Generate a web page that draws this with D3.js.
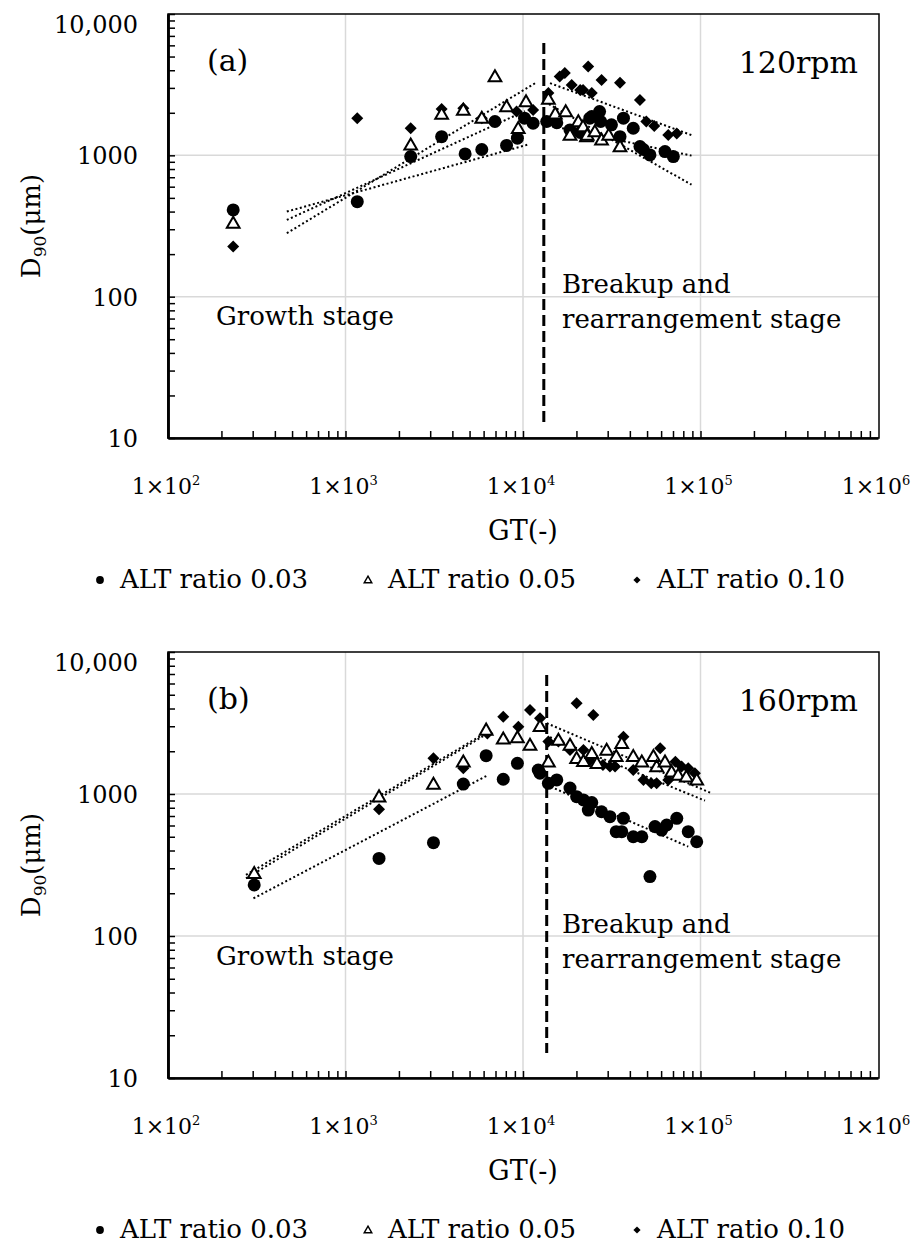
<!DOCTYPE html>
<html>
<head>
<meta charset="utf-8">
<script src="https://cdn.jsdelivr.net/npm/d3@7"></script>
<style>
  body { margin: 0; background: #fff; }
  text { font-family: "DejaVu Serif", serif; fill: #000; }
</style>
</head>
<body>
<div id="chart"></div>
<script>
// ---- data ----
var seriesNames = ["ALT ratio 0.03", "ALT ratio 0.05", "ALT ratio 0.10"];
var xTickExp = [2, 3, 4, 5, 6];
var yTickVals = [10, 100, 1000, 10000];

// (a) 120 rpm
var gtA1 = [233, 1165, 2330, 3480, 4720, 5860, 6950, 8080, 9300, 10200, 11400, 13600, 15500, 18400, 21000, 23800, 24400, 27000, 27400, 31500, 35200, 36800, 41800, 45600, 47700, 51900, 63100, 70300];
var d90A1 = [411, 470, 980, 1356, 1024, 1100, 1735, 1176, 1322, 1833, 1687, 1735, 1700, 1513, 1450, 1833, 1880, 2040, 1735, 1644, 1356, 1833, 1555, 1153, 1100, 1006, 1063, 980];
var gtA2 = [233, 2330, 3480, 4610, 5860, 6950, 8080, 9400, 10400, 13900, 15200, 17400, 18400, 20500, 21800, 22800, 23000, 25400, 27700, 30400, 35200];
var d90A2 = [331, 1186, 1955, 2094, 1833, 3610, 2213, 1555, 2400, 2500, 1970, 2040, 1393, 1735, 1600, 1356, 1393, 1472, 1285, 1393, 1153];
var gtA3 = [233, 1165, 2330, 3480, 4610, 5860, 9200, 11400, 13900, 16100, 17200, 18800, 21000, 21800, 23300, 24400, 27700, 35200, 45600, 49500, 54900, 65800, 73500];
var d90A3 = [226, 1833, 1555, 2130, 2150, 1833, 2040, 2094, 2760, 3610, 3820, 3150, 2900, 2900, 4250, 2760, 3410, 3260, 2466, 1735, 1610, 1393, 1430];
// trend lines (start/end)
var fitAgt = [[467, 11700], [467, 10250], [467, 10900], [14200, 89000], [14000, 89000], [14000, 89000]];
var fitAd90 = [[281, 3240], [349, 2055], [400, 1200], [3240, 1390], [1630, 995], [2300, 620]];
var splitA = [13100, 6240, 13];

// (b) 160 rpm
var gtB1 = [306, 1545, 3130, 4610, 6200, 7740, 9300, 12190, 12470, 13900, 15500, 18400, 20050, 21900, 23330, 24400, 27700, 30900, 33500, 36000, 36800, 41800, 46700, 51900, 55400, 60400, 64500, 73500, 85300, 95200];
var d90B1 = [229, 352, 454, 1175, 1862, 1270, 1645, 1476, 1400, 1189, 1256, 1100, 958, 908, 771, 870, 750, 692, 543, 543, 674, 500, 500, 262, 590, 557, 605, 674, 543, 461];
var gtB2 = [306, 1545, 3130, 4610, 6200, 7740, 9300, 10950, 12470, 13900, 15830, 18400, 20050, 21900, 24400, 26100, 29600, 33500, 36000, 41800, 46700, 54300, 56600, 63100, 68700, 74800, 83200, 95200];
var d90B2 = [276, 957, 1175, 1687, 2825, 2450, 2500, 2213, 2990, 1687, 2400, 2213, 1783, 1700, 1937, 1645, 2040, 1840, 2275, 1840, 1687, 1840, 1560, 1687, 1435, 1360, 1320, 1256];
var gtB3 = [1545, 3130, 4610, 6300, 7740, 9420, 10950, 12470, 13900, 15830, 18400, 20050, 21900, 23800, 24900, 28200, 30900, 33000, 36800, 41800, 47700, 52800, 56600, 59300, 65800, 72200, 78300, 85300, 93000];
var d90B3 = [780, 1783, 1517, 2670, 3500, 2980, 3910, 3410, 2340, 2340, 2040, 4350, 2040, 1720, 3600, 1600, 1560, 1560, 2535, 1476, 1256, 1189, 1189, 2100, 1256, 1687, 1560, 1520, 1400];
var fitBgt = [[275, 6100], [275, 6100], [303, 6380], [13600, 115600], [14200, 106000], [13600, 85300]];
var fitBd90 = [[269, 2673], [255, 2600], [184, 1362], [3150, 1012], [2512, 898], [1156, 426]];
var splitB = [13600, 6890, 15];

// ---- layout ----
var width = 913, height = 1255;
var svg = d3.select("#chart").append("svg")
    .attr("width", width)
    .attr("height", height);

var panels = [
  {top: 14, bottom: 438, label: "(a)", rpm: "120rpm", legendDy: 150,
   gt: [gtA1, gtA2, gtA3], d90: [d90A1, d90A2, d90A3], fitGt: fitAgt, fitD90: fitAd90, split: splitA},
  {top: 652, bottom: 1078, label: "(b)", rpm: "160rpm", legendDy: 160,
   gt: [gtB1, gtB2, gtB3], d90: [d90B1, d90B2, d90B3], fitGt: fitBgt, fitD90: fitBd90, split: splitB}
];

var left = 168, right = 879;

function marker(g, kind, x, y, s) {
  if (kind === 0) {
    g.append("circle").attr("cx", x).attr("cy", y).attr("r", 6.5 * s).attr("fill", "#000");
  } else if (kind === 1) {
    g.append("path")
      .attr("d", d3.symbol().type(d3.symbolTriangle).size(70 * s * s)())
      .attr("transform", "translate(" + x + "," + (y + 1 * s) + ")")
      .attr("fill", "#fff").attr("stroke", "#000").attr("stroke-width", 2 * Math.max(s, 0.7));
  } else {
    g.append("path")
      .attr("d", d3.symbol().type(d3.symbolSquare).size(72 * s * s)())
      .attr("transform", "translate(" + x + "," + y + ") rotate(45)")
      .attr("fill", "#000");
  }
}

panels.forEach(function(p) {
  var x = d3.scaleLog().domain([100, 1e6]).range([left, 878]);
  var y = d3.scaleLog().domain([10, 10000]).range([p.bottom, p.top]);
  var g = svg.append("g");

  // grid
  g.selectAll(".gx").data([1e3, 1e4, 1e5]).enter().append("line")
    .attr("x1", function(d) { return x(d); }).attr("x2", function(d) { return x(d); })
    .attr("y1", p.top).attr("y2", p.bottom)
    .attr("stroke", "#d9d9d9").attr("stroke-width", 1.5);
  g.selectAll(".gy").data([100, 1000]).enter().append("line")
    .attr("y1", function(d) { return y(d); }).attr("y2", function(d) { return y(d); })
    .attr("x1", left).attr("x2", right)
    .attr("stroke", "#d9d9d9").attr("stroke-width", 1.5);

  // frame
  g.append("rect").attr("x", left).attr("y", p.top)
    .attr("width", right - left).attr("height", p.bottom - p.top)
    .attr("fill", "none").attr("stroke", "#000").attr("stroke-width", 1.5);

  // minor tick values
  var xMinor = [], yMinor = [];
  for (var e = 2; e < 6; e++) for (var m = 2; m < 10; m++) xMinor.push(m * Math.pow(10, e));
  for (var e2 = 1; e2 < 4; e2++) for (var m2 = 2; m2 < 10; m2++) yMinor.push(m2 * Math.pow(10, e2));

  var xAxis = g.append("g").attr("transform", "translate(0," + p.bottom + ")")
    .call(d3.axisBottom(x).tickValues(xMinor.concat([1e3, 1e4, 1e5])).tickSize(-7).tickSizeOuter(0).tickFormat(""));
  var yAxis = g.append("g").attr("transform", "translate(" + left + ",0)")
    .call(d3.axisLeft(y).tickValues(yMinor).tickSize(-7).tickSizeOuter(0).tickFormat(""));
  var yMajor = g.append("g").attr("transform", "translate(" + left + ",0)")
    .call(d3.axisLeft(y).tickValues(yTickVals).tickSize(-7).tickSizeOuter(0).tickPadding(30)
      .tickFormat(function(d) { return d === 10000 ? "10,000" : String(d); }));
  [xAxis, yAxis, yMajor].forEach(function(a) {
    a.select(".domain").attr("stroke-width", 2.5);
    a.selectAll(".tick line").attr("stroke-width", 1.5);
  });
  yMajor.selectAll("text").style("font-family", "DejaVu Serif").style("font-size", "24px")
    .attr("dy", function(d) { return d === 10000 ? "0.75em" : "0.35em"; });

  // x tick labels 1×10^n
  xTickExp.forEach(function(n) {
    var t = g.append("text").attr("x", x(Math.pow(10, n)) - 2).attr("y", p.bottom + 56)
      .attr("text-anchor", "middle").style("font-size", "22px");
    t.append("tspan").text("1\u00d710");
    t.append("tspan").attr("dy", -9).style("font-size", "13px").text(String(n));
  });

  g.append("text").attr("x", (left + 878) / 2).attr("y", p.bottom + 102)
    .attr("text-anchor", "middle").style("font-size", "27px").text("GT(-)");

  // y label
  var yl = g.append("text")
    .attr("transform", "translate(40," + ((p.top + p.bottom) / 2) + ") rotate(-90)")
    .attr("text-anchor", "middle").style("font-size", "26px");
  yl.append("tspan").text("D");
  yl.append("tspan").attr("dy", 6).style("font-size", "17px").text("90");
  yl.append("tspan").attr("dy", -6).text("(\u03bcm)");

  // trend lines
  p.fitGt.forEach(function(gx, i) {
    g.append("line")
      .attr("x1", x(gx[0])).attr("y1", y(p.fitD90[i][0]))
      .attr("x2", x(gx[1])).attr("y2", y(p.fitD90[i][1]))
      .attr("stroke", "#000").attr("stroke-width", 2).attr("stroke-dasharray", "2,2.5");
  });

  // breakup boundary
  g.append("line")
    .attr("x1", x(p.split[0])).attr("x2", x(p.split[0]))
    .attr("y1", y(p.split[1])).attr("y2", y(p.split[2]))
    .attr("stroke", "#000").attr("stroke-width", 3).attr("stroke-dasharray", "11,5");

  // points
  [2, 0, 1].forEach(function(k) {
    var pts = g.append("g");
    p.gt[k].forEach(function(v, i) { marker(pts, k, x(v), y(p.d90[k][i]), 1); });
  });

  // labels inside plot
  g.append("text").attr("x", 207).attr("y", p.top + 57).style("font-size", "30px").text(p.label);
  g.append("text").attr("x", 858).attr("y", p.top + 59).attr("text-anchor", "end")
    .style("font-size", "30px").text(p.rpm);
  g.append("text").attr("x", 216).attr("y", p.bottom - 113).style("font-size", "26px").text("Growth stage");
  g.append("text").attr("x", 562).attr("y", p.bottom - 145).style("font-size", "26px").text("Breakup and");
  g.append("text").attr("x", 562).attr("y", p.bottom - 110).style("font-size", "26px").text("rearrangement stage");

  // legend
  var ly = p.bottom + p.legendDy;
  var lx = [100, 368, 637];
  seriesNames.forEach(function(name, k) {
    marker(g, k, lx[k], ly - 8, 0.6);
    g.append("text").attr("x", lx[k] + 20).attr("y", ly).style("font-size", "26px").text(name);
  });
});
</script>
</body>
</html>
